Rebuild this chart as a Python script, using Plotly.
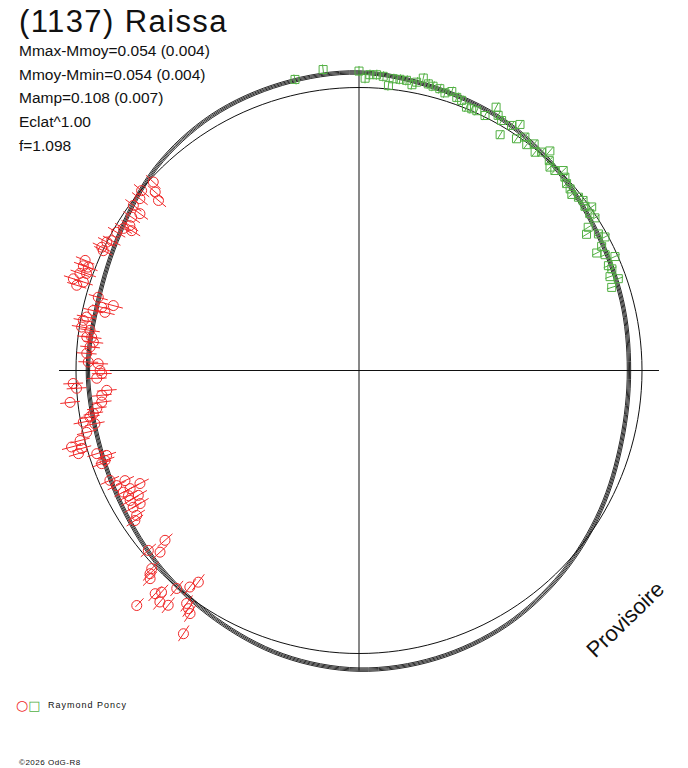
## Courbe de rotation polaire de (1137) Raissa avec plotly

import plotly.graph_objects as go

## Donnees : phase en degres, rayon relatif (cercle de reference = 1)

# courbe modele (echantillonnee tous les 15 degres)
modele_phase = [0, 15, 30, 45, 60, 75, 90, 105, 120, 135, 150, 165,
                180, 195, 210, 225, 240, 255, 270, 285, 300, 315, 330, 345]
modele_rayon = [0.954, 0.961, 0.972, 0.996, 1.021, 1.035, 1.053, 1.049, 1.039, 1.014, 0.975, 0.954,
                0.958, 0.954, 0.965, 0.989, 1.014, 1.042, 1.057, 1.053, 1.039, 1.014, 0.986, 0.961]
# faisceau des solutions voisines
modele_dispersion = [-0.006, -0.002, 0.002, 0.006]

cercle_rayon = 1.0

# serie 1 (cercles rouges)
rouge_phase = [137.5, 138.8, 139.7, 140.4, 141.9, 143.8, 144.4, 146.0, 147.7, 148.4,
               148.9, 150.3, 152.3, 153.0, 154.4, 154.9, 158.1, 159.2, 159.1, 160.4,
               160.8, 162.2, 162.2, 163.2, 164.3, 166.2, 165.2, 167.1, 167.3, 168.9,
               169.7, 171.1, 171.5, 173.0, 172.9, 173.9, 175.0, 176.4, 178.2, 178.5,
               180.0, 180.7, 181.7, 182.6, 183.6, 184.5, 185.5, 186.3, 187.0, 188.2,
               189.2, 189.8, 190.6, 191.4, 192.8, 194.1, 194.9, 195.7, 196.5, 197.6,
               198.6, 199.5, 199.9, 203.8, 205.4, 205.2, 207.3, 207.3, 207.3, 208.5,
               209.5, 211.3, 209.6, 211.2, 213.1, 213.8, 221.2, 222.4, 220.5, 223.7,
               224.2, 224.9, 230.1, 232.0, 232.8, 227.6, 228.3, 229.3, 230.9, 226.6,
               233.5, 234.4, 235.2, 236.3]
rouge_rayon = [0.986, 0.957, 0.929, 0.997, 0.984, 0.988, 0.952, 0.969, 0.958, 0.943,
               0.972, 0.986, 0.987, 1.000, 1.008, 0.998, 1.043, 1.042, 1.024, 1.022,
               1.044, 1.060, 1.023, 1.042, 0.957, 0.936, 0.898, 0.921, 0.963, 0.981,
               0.990, 0.992, 0.961, 0.969, 0.952, 0.944, 0.954, 0.964, 0.957, 0.922,
               0.915, 0.909, 0.927, 1.011, 1.000, 0.894, 0.913, 1.027, 0.916, 0.936,
               0.951, 0.965, 0.991, 0.952, 0.987, 1.016, 1.051, 1.018, 1.034, 0.972,
               0.941, 0.952, 0.967, 0.962, 0.948, 0.914, 0.871, 0.910, 0.937, 0.927,
               0.896, 0.905, 0.930, 0.933, 0.938, 0.953, 0.911, 0.952, 0.979, 1.013,
               1.030, 1.042, 1.004, 0.971, 0.939, 1.068, 1.049, 1.079, 1.069, 1.143,
               1.024, 1.035, 1.046, 1.118]
rouge_erreur = 0.035

# serie 2 (carres verts)
vert_phase = [102.4, 96.8, 90.0, 88.8, 87.9, 86.6, 85.3, 84.1, 83.3, 82.0,
              80.7, 79.5, 78.7, 77.6, 76.4, 75.4, 74.0, 72.8, 71.6, 70.3,
              69.2, 67.8, 66.7, 65.6, 63.7, 62.5, 61.4, 60.3, 58.1, 56.8,
              59.1, 55.8, 54.6, 53.4, 52.3, 51.1, 50.1, 49.0, 47.8, 46.8,
              45.6, 44.4, 43.2, 42.0, 40.7, 39.6, 38.3, 37.2, 36.0, 35.1,
              34.2, 32.9, 32.0, 30.9, 29.7, 28.5, 27.1, 26.3, 25.2, 24.0,
              22.8, 21.9, 20.5, 19.5, 18.2]
vert_rayon = [1.053, 1.071, 1.058, 1.033, 1.046, 1.047, 1.043, 1.012, 1.038, 1.039,
              1.039, 1.027, 1.039, 1.058, 1.042, 1.038, 1.036, 1.027, 1.039, 1.025,
              1.021, 1.005, 1.007, 1.008, 1.005, 1.049, 1.027, 1.017, 1.020, 1.039,
              0.971, 0.990, 1.012, 0.994, 1.012, 0.991, 1.006, 1.028, 1.001, 0.986,
              0.989, 1.010, 0.998, 0.987, 0.984, 0.976, 0.988, 0.994, 0.987, 1.005,
              0.986, 0.993, 0.955, 0.937, 0.974, 0.989, 0.963, 0.937, 0.961, 0.990,
              0.956, 0.963, 0.947, 0.972, 0.940]
vert_erreur = 0.018

titre = "(1137) Raissa"
stats = ["Mmax-Mmoy=0.054 (0.004)",
         "Mmoy-Mmin=0.054 (0.004)",
         "Mamp=0.108 (0.007)",
         "Eclat^1.00",
         "f=1.098"]
observateur = "Raymond Poncy"
copyright = "©2026 OdG-R8"

ROUGE = "#f02828"
VERT = "#52b043"
NOIR = "#111111"

W, H = 688, 768
CX, CY = 359, 370.5        # centre du graphique (pixels)
UNITE = 283                # pixels pour un rayon de 1
R_MAX = 1.15               # bord de la zone polaire
L_AXES = 1.06              # longueur des axes en croix


def px(x, y):
    return x / W, 1 - y / H


def barres(phases, rayons, err):
    th, rr = [], []
    for t, r in zip(phases, rayons):
        th += [t, t, None]
        rr += [r - err, r + err, None]
    return th, rr


fig = go.Figure()

## axes en croix
for a, b in [(0, 180), (90, 270)]:
    fig.add_trace(go.Scatterpolar(r=[L_AXES, 0, L_AXES], theta=[a, a, b], mode="lines",
                                  line=dict(color=NOIR, width=1), hoverinfo="skip"))

## cercle de reference
theta_cercle = list(range(0, 361, 2))
fig.add_trace(go.Scatterpolar(r=[cercle_rayon] * len(theta_cercle), theta=theta_cercle,
                              mode="lines", line=dict(color=NOIR, width=1), hoverinfo="skip"))

## faisceau de courbes modele
for d in modele_dispersion:
    rr = [v + d for v in modele_rayon]
    fig.add_trace(go.Scatterpolar(r=rr + rr[:1], theta=modele_phase + [360],
                                  mode="lines", line=dict(color=NOIR, width=0.9, shape="spline"),
                                  hoverinfo="skip"))

## barres d'erreur radiales + points
for ph, ry, err, coul, symb, taille in [(rouge_phase, rouge_rayon, rouge_erreur, ROUGE, "circle-open", 10),
                                        (vert_phase, vert_rayon, vert_erreur, VERT, "square-open", 8)]:
    th, rr = barres(ph, ry, err)
    fig.add_trace(go.Scatterpolar(r=rr, theta=th, mode="lines",
                                  line=dict(color=coul, width=1), hoverinfo="skip"))
    fig.add_trace(go.Scatterpolar(r=ry, theta=ph, mode="markers", cliponaxis=False,
                                  marker=dict(symbol=symb, size=taille, color=coul,
                                              line=dict(color=coul, width=1))))

## mise en page
rad_px = R_MAX * UNITE
fig.update_layout(
    width=W, height=H,
    margin=dict(l=0, r=0, t=0, b=0),
    paper_bgcolor="white",
    showlegend=False,
    font=dict(family="Liberation Sans, Arial, sans-serif", color=NOIR),
    polar=dict(
        domain=dict(x=[(CX - rad_px) / W, (CX + rad_px) / W],
                    y=[(H - CY - rad_px) / H, (H - CY + rad_px) / H]),
        bgcolor="white",
        radialaxis=dict(visible=False, range=[0, R_MAX]),
        angularaxis=dict(visible=False, rotation=0, direction="counterclockwise"),
    ),
)

## textes
annots = []
x0, y0 = px(17, 21)
annots.append(dict(text="<span style='letter-spacing:1.4px'>%s</span>" % titre, x=x0, y=y0,
                   font=dict(size=31)))
for i, ligne in enumerate(stats):
    x0, y0 = px(17, 50.8 + 23.6 * i)
    annots.append(dict(text=ligne, x=x0, y=y0, font=dict(size=15.5)))
x0, y0 = px(14, 705)
annots.append(dict(text="<span style='color:%s'>○</span><span style='color:%s;font-size:13px'>□</span>" % (ROUGE, VERT),
                   x=x0, y=y0, font=dict(size=14, family="DejaVu Sans")))
x0, y0 = px(46, 705)
annots.append(dict(text="<span style='letter-spacing:1px'>%s</span>" % observateur, x=x0, y=y0,
                   font=dict(size=9)))
x0, y0 = px(17, 762.5)
annots.append(dict(text="<span style='letter-spacing:0.5px'>%s</span>" % copyright, x=x0, y=y0,
                   font=dict(size=8)))
for a in annots:
    a.update(xref="paper", yref="paper", xanchor="left", yanchor="middle", showarrow=False)
x0, y0 = px(625, 619)
annots.append(dict(text="Provisoire", x=x0, y=y0, xref="paper", yref="paper", showarrow=False,
                   xanchor="center", yanchor="middle", textangle=-44, font=dict(size=22)))
fig.update_layout(annotations=annots)

fig.write_html("out.html", config={"displayModeBar": False},
               post_script="document.body.style.margin='0px';")
